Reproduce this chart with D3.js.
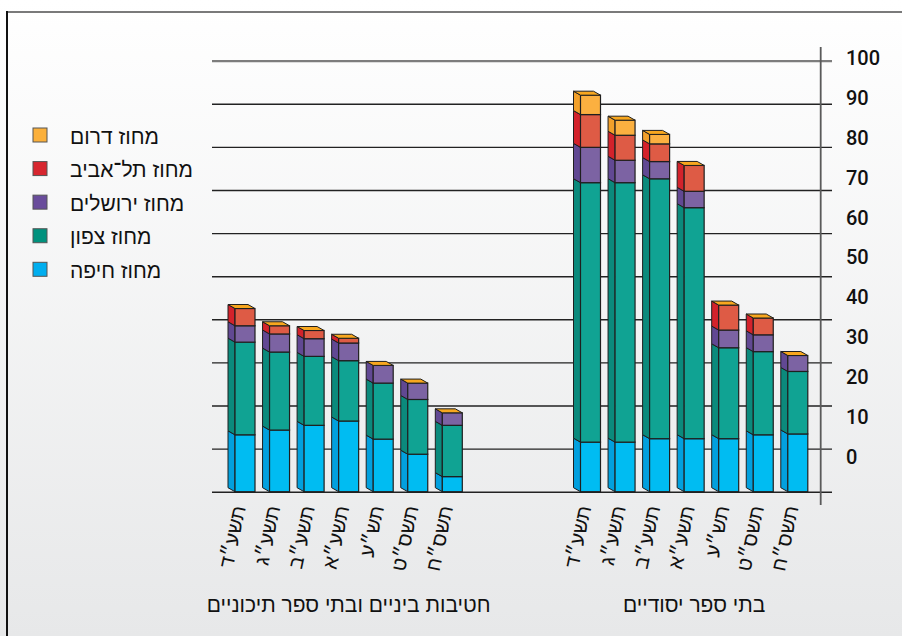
<!DOCTYPE html>
<html><head><meta charset="utf-8">
<script src="https://cdn.jsdelivr.net/npm/d3@7"></script>
<style>html,body{margin:0;padding:0;overflow:hidden;background:#fff}</style>
</head><body><svg id="chart" width="902" height="636"></svg>
<script>
// ---------- DATA ----------
const categories = ["תשע״ד","תשע״ג","תשע״ב","תשע״א","תש״ע","תשס״ט","תשס״ח"];
const groups = ["חטיבות ביניים ובתי ספר תיכוניים","בתי ספר יסודיים"];
const seriesNames = ["מחוז חיפה","מחוז צפון","מחוז ירושלים","מחוז תל־אביב","מחוז דרום"];

// Secondary schools (left group)
const haifaSecondary     = [13.2, 14.3, 15.4, 16.4, 12.2, 8.7, 3.5];
const tzafonSecondary    = [21.5, 18.1, 16.0, 14.0, 13.0, 12.7, 11.9];
const jerusalemSecondary = [3.8, 4.2, 4.1, 4.1, 4.1, 3.8, 2.9];
const telavivSecondary   = [4.0, 1.9, 1.9, 1.1, 0, 0, 0];
const daromSecondary     = [0, 0, 0, 0, 0, 0, 0];

// Primary schools (right group)
const haifaPrimary     = [11.5, 11.5, 12.3, 12.3, 12.3, 13.2, 13.4];
const tzafonPrimary    = [60.2, 60.2, 60.3, 53.6, 21.1, 19.3, 14.5];
const jerusalemPrimary = [8.2, 5.2, 4.0, 3.8, 4.1, 3.9, 3.7];
const telavivPrimary   = [7.6, 5.8, 4.1, 6.0, 5.8, 3.9, 0];
const daromPrimary     = [4.5, 3.5, 2.2, 0, 0, 0, 0];

const yTickValues = [0, 10, 20, 30, 40, 50, 60, 70, 80, 90, 100];

// ---------- STYLE ----------
const frontColors  = ["#00BCF2", "#10A393", "#7C63A3", "#DE5B45", "#FBB040"];
const sideColors   = ["#02A0DE", "#0B8A7C", "#614893", "#D3222B", "#F2A02A"];
const legendColors = ["#00AEEF", "#00917D", "#694C9B", "#D7262F", "#FBB03B"];
const topCapColor  = "#F8A71E";
const edge = "#1f1f1f";
const DEPTH_X = 7, DEPTH_Y = 4, FRONT_W = 20;
const hebFont = "'Liberation Sans', Arial, sans-serif";

// ---------- BUILD ROWS ----------
const keys = ["haifa", "tzafon", "jerusalem", "telaviv", "darom"];
const groupSeries = [
  [haifaSecondary, tzafonSecondary, jerusalemSecondary, telavivSecondary, daromSecondary],
  [haifaPrimary, tzafonPrimary, jerusalemPrimary, telavivPrimary, daromPrimary]
];
const rows = [];
groupSeries.forEach((ser, gi) => {
  categories.forEach((c, ci) => {
    const r = { slot: gi + "-" + ci, group: gi, cat: c };
    keys.forEach((k, ki) => r[k] = ser[ki][ci]);
    rows.push(r);
  });
});
const slots = [
  ...categories.map((c, i) => "0-" + i),
  "gap0", "gap1", "gap2",
  ...categories.map((c, i) => "1-" + i)
];

const svg = d3.select("#chart");
const W = 902, H = 636;

// background gradient
const defs = svg.append("defs");
const grad = defs.append("linearGradient").attr("id", "bg").attr("x1", 0).attr("y1", 0).attr("x2", 0).attr("y2", 1);
grad.append("stop").attr("offset", "0%").attr("stop-color", "#ffffff");
grad.append("stop").attr("offset", "100%").attr("stop-color", "#e7e8e9");
svg.append("rect").attr("x", 0).attr("y", 0).attr("width", W).attr("height", H).attr("fill", "url(#bg)");

// frame
svg.append("line").attr("x1", 7).attr("x2", W).attr("y1", 12).attr("y2", 12).attr("stroke", "#7a7a7a").attr("stroke-width", 2);
svg.append("line").attr("x1", 7).attr("x2", 7).attr("y1", 11).attr("y2", H).attr("stroke", "#111").attr("stroke-width", 2);

// scales
const x = d3.scaleBand().domain(slots).range([221, 221 + 17 * 34.55]).padding(0);
const y = d3.scaleLinear().domain([0, 100]).range([491.7, 60.7]);
const yLabel = d3.scaleLinear().domain([0, 100]).range([457, 58]);

// gridlines via axis
const gridAxis = svg.append("g").attr("transform", "translate(832,0)")
  .call(d3.axisRight(y).tickValues(yTickValues).tickSize(-620).tickFormat(""));
gridAxis.select(".domain").remove();
gridAxis.selectAll(".tick line")
  .attr("stroke", d => d === 100 ? "#7d7d7d" : "#222")
  .attr("stroke-width", d => d === 100 ? 2.2 : (d === 0 ? 1.6 : 1.4));

// vertical axis line
svg.append("line").attr("x1", 820.7).attr("x2", 820.7).attr("y1", 47).attr("y2", 505)
  .attr("stroke", "#5a5a5a").attr("stroke-width", 1.8);

// tick labels
const labelAxis = svg.append("g").attr("transform", "translate(846,0)")
  .call(d3.axisRight(yLabel).tickValues(yTickValues).tickSize(0).tickPadding(0));
labelAxis.select(".domain").remove();
labelAxis.selectAll("text")
  .attr("font-family", "Roboto, 'Liberation Sans', sans-serif")
  .attr("font-weight", 500)
  .attr("font-size", 20)
  .attr("fill", "#111")
  .attr("text-anchor", "start");

// stacked bars
const stack = d3.stack().keys(keys);
const layers = stack(rows);
const barsG = svg.append("g");

rows.forEach((row, ri) => {
  const fx = x(row.slot) + 14;
  const bg = barsG.append("g");
  layers.forEach((layer, li) => {
    const [v0, v1] = layer[ri];
    if (v1 - v0 <= 0) return;
    const yb = y(v0), yt = y(v1);
    bg.append("polygon")
      .attr("points", [[fx, yb], [fx, yt], [fx - DEPTH_X, yt - DEPTH_Y], [fx - DEPTH_X, yb - DEPTH_Y]].map(p => p.join(",")).join(" "))
      .attr("fill", sideColors[li]).attr("stroke", edge).attr("stroke-width", 1).attr("stroke-linejoin", "round");
    bg.append("rect")
      .attr("x", fx).attr("y", yt).attr("width", FRONT_W).attr("height", yb - yt)
      .attr("fill", frontColors[li]).attr("stroke", edge).attr("stroke-width", 1.2);
  });
  const top = layers[layers.length - 1][ri][1];
  const yt = y(top);
  bg.append("polygon")
    .attr("points", [[fx, yt], [fx + FRONT_W, yt], [fx + FRONT_W - DEPTH_X, yt - DEPTH_Y], [fx - DEPTH_X, yt - DEPTH_Y]].map(p => p.join(",")).join(" "))
    .attr("fill", topCapColor).attr("stroke", edge).attr("stroke-width", 1).attr("stroke-linejoin", "round");
});

// category labels (rotated)
const catG = svg.append("g");
rows.forEach(row => {
  const cx = x(row.slot) + 14 + FRONT_W / 2 - 6;
  catG.append("text")
    .attr("transform", `translate(${cx},506) rotate(-78)`)
    .attr("text-anchor", "end")
    .attr("dominant-baseline", "central")
    .attr("font-family", hebFont)
    .attr("font-size", 20)
    .attr("fill", "#111")
    .text(row.cat);
});

// group labels
groups.forEach((g, gi) => {
  const mid = x(gi + "-3") + 14 + FRONT_W / 2;
  svg.append("text")
    .attr("x", mid).attr("y", 612)
    .attr("text-anchor", "middle")
    .attr("font-family", hebFont)
    .attr("font-size", 21)
    .attr("fill", "#111")
    .text(g);
});

// legend
const legendOrder = [4, 3, 2, 1, 0];
const legendY = d3.scalePoint().domain(legendOrder).range([135, 269.3]);
const lg = svg.append("g");
legendOrder.forEach(si => {
  const cy = legendY(si);
  lg.append("rect").attr("x", 33).attr("y", cy - 7).attr("width", 14).attr("height", 14)
    .attr("fill", legendColors[si]).attr("stroke", "#555").attr("stroke-width", 1);
  lg.append("text").attr("x", 70).attr("y", cy + 1)
    .attr("dominant-baseline", "central")
    .attr("font-family", hebFont)
    .attr("font-size", 21)
    .attr("fill", "#111")
    .text(seriesNames[si]);
});
</script>
</body></html>
